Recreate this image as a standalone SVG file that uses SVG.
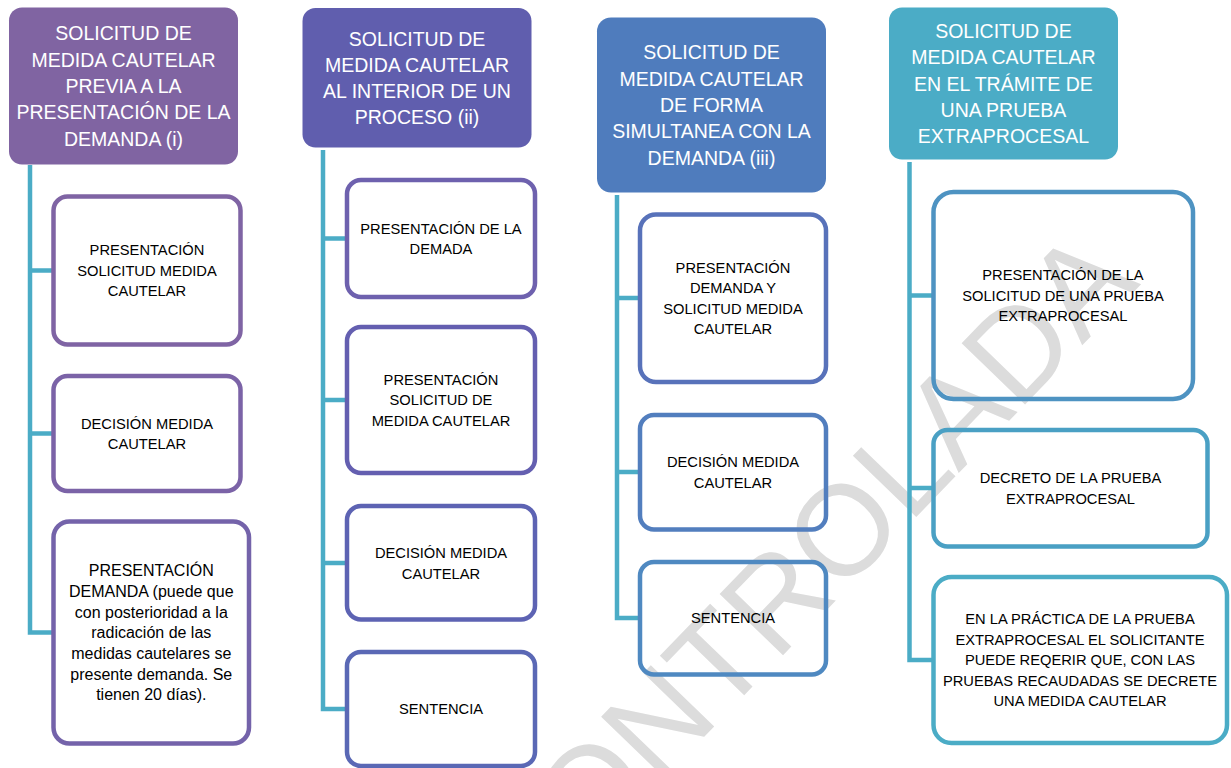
<svg xmlns="http://www.w3.org/2000/svg" width="1231" height="768" viewBox="0 0 1231 768">
<style>
.hdr{stroke:none}
.hdr-t{font-family:"Liberation Sans",Arial,sans-serif;font-size:19.5px;fill:#ffffff;text-anchor:middle}
.box{fill:none;stroke-width:4.5}
.box-t{font-family:"Liberation Sans",Arial,sans-serif;font-size:14.7px;fill:#000000;text-anchor:middle}
.box-t16{font-family:"Liberation Sans",Arial,sans-serif;font-size:16px;fill:#000000;text-anchor:middle}
.conn{fill:none;stroke:#4BACC6;stroke-width:4.5;stroke-linejoin:miter}
.wm{font-family:"Liberation Sans",Arial,sans-serif;font-size:128px;fill:#dcdcdc}
</style>
<rect width="1231" height="768" fill="#ffffff"/>
<text class="wm" transform="translate(588,857) rotate(-46)">ONTROLADA</text>

<g id="connectors">
<path class="conn" d="M30 165 V632.5 H53.5 M30 270.5 H53.5 M30 433.5 H53.5"/>
<path class="conn" d="M323 150 V709 H347 M323 238.5 H347 M323 400 H347 M323 563 H347"/>
<path class="conn" d="M617 195 V618 H640 M617 298 H640 M617 472 H640"/>
<path class="conn" d="M909.5 162 V660 H933.5 M909.5 295.5 H933.5 M909.5 488 H933.5"/>
</g>

<g id="col1-header">
<rect class="hdr" x="9" y="7.5" width="229" height="157" rx="13" fill="#8064A2"/>
<text class="hdr-t"><tspan x="123.5" y="40.4">SOLICITUD DE</tspan><tspan x="123.5" y="66.7">MEDIDA CAUTELAR</tspan><tspan x="123.5" y="93">PREVIA A LA</tspan><tspan x="123.5" y="119.3">PRESENTACIÓN DE LA</tspan><tspan x="123.5" y="145.6">DEMANDA (i)</tspan></text>
</g>
<g id="col1-box1">
<rect class="box" x="53.5" y="196.5" width="187" height="148" rx="14" stroke="#7F64A4"/>
<text class="box-t"><tspan x="147" y="255.3">PRESENTACIÓN</tspan><tspan x="147" y="275.8">SOLICITUD MEDIDA</tspan><tspan x="147" y="296.3">CAUTELAR</tspan></text>
</g>
<g id="col1-box2">
<rect class="box" x="53.5" y="376" width="187" height="115" rx="14" stroke="#7B63A7"/>
<text class="box-t"><tspan x="147" y="428.5">DECISIÓN MEDIDA</tspan><tspan x="147" y="449">CAUTELAR</tspan></text>
</g>
<g id="col1-box3">
<rect class="box" x="53.5" y="521.5" width="195.5" height="222" rx="16" stroke="#7463AA"/>
<text class="box-t16"><tspan x="151.3" y="576.1">PRESENTACIÓN</tspan><tspan x="151.3" y="596.8">DEMANDA (puede que</tspan><tspan x="151.3" y="617.5">con posterioridad a la</tspan><tspan x="151.3" y="638.2">radicación de las</tspan><tspan x="151.3" y="658.9">medidas cautelares se</tspan><tspan x="151.3" y="679.6">presente demanda. Se</tspan><tspan x="151.3" y="700.3">tienen 20 días).</tspan></text>
</g>

<g id="col2-header">
<rect class="hdr" x="302.5" y="8" width="229" height="139.5" rx="13" fill="#605EAE"/>
<text class="hdr-t"><tspan x="417" y="45.5">SOLICITUD DE</tspan><tspan x="417" y="71.8">MEDIDA CAUTELAR</tspan><tspan x="417" y="98.1">AL INTERIOR DE UN</tspan><tspan x="417" y="124.4">PROCESO (ii)</tspan></text>
</g>
<g id="col2-box1">
<rect class="box" x="347" y="180" width="188" height="117" rx="14" stroke="#6E61AE"/>
<text class="box-t"><tspan x="441" y="233.5">PRESENTACIÓN DE LA</tspan><tspan x="441" y="254">DEMADA</tspan></text>
</g>
<g id="col2-box2">
<rect class="box" x="347" y="327" width="188" height="146" rx="14" stroke="#645FB0"/>
<text class="box-t"><tspan x="441" y="384.8">PRESENTACIÓN</tspan><tspan x="441" y="405.3">SOLICITUD DE</tspan><tspan x="441" y="425.8">MEDIDA CAUTELAR</tspan></text>
</g>
<g id="col2-box3">
<rect class="box" x="347" y="506" width="188" height="113.5" rx="14" stroke="#5D63B3"/>
<text class="box-t"><tspan x="441" y="558">DECISIÓN MEDIDA</tspan><tspan x="441" y="578.5">CAUTELAR</tspan></text>
</g>
<g id="col2-box4">
<rect class="box" x="347" y="652" width="188" height="114" rx="14" stroke="#5A68B5"/>
<text class="box-t"><tspan x="441" y="714.3">SENTENCIA</tspan></text>
</g>

<g id="col3-header">
<rect class="hdr" x="597" y="17.5" width="229" height="175" rx="14" fill="#4F7CBD"/>
<text class="hdr-t"><tspan x="711.5" y="59.4">SOLICITUD DE</tspan><tspan x="711.5" y="85.7">MEDIDA CAUTELAR</tspan><tspan x="711.5" y="112">DE FORMA</tspan><tspan x="711.5" y="138.3">SIMULTANEA CON LA</tspan><tspan x="711.5" y="164.6">DEMANDA (iii)</tspan></text>
</g>
<g id="col3-box1">
<rect class="box" x="640" y="214.5" width="186" height="167.5" rx="16" stroke="#5872BA"/>
<text class="box-t"><tspan x="733" y="272.5">PRESENTACIÓN</tspan><tspan x="733" y="293">DEMANDA Y</tspan><tspan x="733" y="313.5">SOLICITUD MEDIDA</tspan><tspan x="733" y="334">CAUTELAR</tspan></text>
</g>
<g id="col3-box2">
<rect class="box" x="640" y="415" width="186" height="114.5" rx="14" stroke="#527EBE"/>
<text class="box-t"><tspan x="733" y="467">DECISIÓN MEDIDA</tspan><tspan x="733" y="487.5">CAUTELAR</tspan></text>
</g>
<g id="col3-box3">
<rect class="box" x="640" y="562" width="186" height="112.5" rx="14" stroke="#4F89C1"/>
<text class="box-t"><tspan x="733" y="623.3">SENTENCIA</tspan></text>
</g>

<g id="col4-header">
<rect class="hdr" x="889" y="7.5" width="229" height="152" rx="13" fill="#4BACC6"/>
<text class="hdr-t"><tspan x="1003.4" y="37.9">SOLICITUD DE</tspan><tspan x="1003.4" y="64.2">MEDIDA CAUTELAR</tspan><tspan x="1003.4" y="90.5">EN EL TRÁMITE DE</tspan><tspan x="1003.4" y="116.8">UNA PRUEBA</tspan><tspan x="1003.4" y="143.1">EXTRAPROCESAL</tspan></text>
</g>
<g id="col4-box1">
<rect class="box" x="933.5" y="192" width="259.5" height="207" rx="20" stroke="#4E93C2"/>
<text class="box-t"><tspan x="1063" y="280.3">PRESENTACIÓN DE LA</tspan><tspan x="1063" y="300.8">SOLICITUD DE UNA PRUEBA</tspan><tspan x="1063" y="321.3">EXTRAPROCESAL</tspan></text>
</g>
<g id="col4-box2">
<rect class="box" x="933.5" y="430" width="274" height="116.5" rx="14" stroke="#4AA0C4"/>
<text class="box-t"><tspan x="1070.5" y="483">DECRETO DE LA PRUEBA</tspan><tspan x="1070.5" y="503.5">EXTRAPROCESAL</tspan></text>
</g>
<g id="col4-box3">
<rect class="box" x="933.5" y="577" width="293.5" height="166" rx="18" stroke="#4BACC6"/>
<text class="box-t"><tspan x="1080" y="624.3">EN LA PRÁCTICA DE LA PRUEBA</tspan><tspan x="1080" y="644.8">EXTRAPROCESAL EL SOLICITANTE</tspan><tspan x="1080" y="665.3">PUEDE REQERIR QUE, CON LAS</tspan><tspan x="1080" y="685.8">PRUEBAS RECAUDADAS SE DECRETE</tspan><tspan x="1080" y="706.3">UNA MEDIDA CAUTELAR</tspan></text>
</g>
</svg>
